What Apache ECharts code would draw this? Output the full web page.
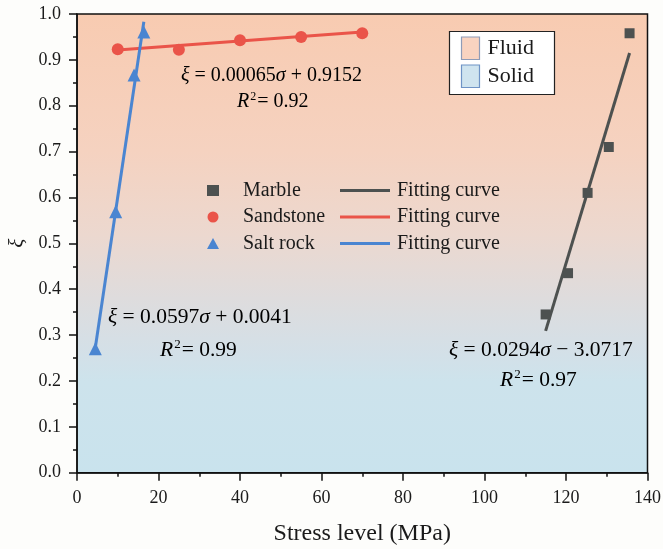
<!DOCTYPE html>
<html>
<head>
<meta charset="utf-8">
<script src="https://cdn.jsdelivr.net/npm/echarts@6/dist/echarts.min.js"></script>
<style>
  html, body { margin: 0; padding: 0; background: #fdfdfb; }
  #chart { width: 663px; height: 549px; }
</style>
</head>
<body>
<div id="chart"></div>
<script>
// Measured points: stress level (MPa) vs. ξ
const marbleStress    = [115, 120.5, 125.3, 130.5, 135.6];
const marbleXi        = [0.345, 0.435, 0.61, 0.71, 0.958];
const sandstoneStress = [10, 25, 40, 55, 70];
const sandstoneXi     = [0.923, 0.922, 0.943, 0.95, 0.958];
const saltStress      = [4.5, 9.5, 14, 16.4];
const saltXi          = [0.27, 0.569, 0.867, 0.961];

// Linear fits ξ = a·σ + b, drawn over each sample's stress range
const marbleFit    = { a: 0.0294,  b: -3.0717, r2: '0.97' };
const sandstoneFit = { a: 0.00065, b: 0.9152,  r2: '0.92' };
const saltFit      = { a: 0.0597,  b: 0.0041,  r2: '0.99' };

const xTicks = [0, 20, 40, 60, 80, 100, 120, 140];
const yTicks = [0, 0.1, 0.2, 0.3, 0.4, 0.5, 0.6, 0.7, 0.8, 0.9, 1.0];

const COLORS = { marble: '#4d5150', sandstone: '#ea5449', salt: '#4a85d1' };
const FONT = '"Liberation Serif", "Times New Roman", serif';

function pairs(xs, ys) { return xs.map((x, i) => [x, ys[i]]); }
function fitLine(fit, xs) {
  const lo = Math.min(...xs), hi = Math.max(...xs);
  return [[lo, fit.a * lo + fit.b], [hi, fit.a * hi + fit.b]];
}

const chart = echarts.init(document.getElementById('chart'), null, { renderer: 'canvas' });

function richFor(size) {
  return {
    i: { fontFamily: FONT, fontStyle: 'italic', fontSize: size, color: '#1a1a1a' },
    n: { fontFamily: FONT, fontSize: size, color: '#1a1a1a' },
    sup: { fontFamily: FONT, fontSize: Math.round(size * 0.6), color: '#1a1a1a',
           verticalAlign: 'top', padding: [0, 1, Math.round(size * 0.5), 1] }
  };
}
function eqText(fit) {
  const sign = fit.b < 0 ? '\u2212' : '+';
  return '{i|\u03BE}{n| = ' + fit.a + '}{i|\u03C3}{n| ' + sign + ' ' + Math.abs(fit.b).toFixed(4) + '}';
}
function r2Text(fit) { return '{i|R}{sup|2}{n|= ' + fit.r2 + '}'; }
function label(x, y, text, size) {
  return { type: 'text', x: x, y: y, z: 10,
    style: { text: text, rich: richFor(size), textVerticalAlign: 'middle', textAlign: 'left' } };
}

const option = {
  backgroundColor: '#fdfdfb',
  animation: false,
  grid: {
    left: 77, right: 15.5, top: 14, bottom: 76.3,
    outerBoundsMode: 'none',
    show: true,
    borderColor: '#111', borderWidth: 1.5,
    backgroundColor: {
      type: 'linear', x: 0, y: 0, x2: 0, y2: 1,
      colorStops: [
        { offset: 0.0,  color: '#f8cbb1' },
        { offset: 0.30, color: '#f5d2c0' },
        { offset: 0.48, color: '#ecd8cf' },
        { offset: 0.62, color: '#dedcdd' },
        { offset: 0.74, color: '#d3e0e8' },
        { offset: 0.80, color: '#cde3ec' },
        { offset: 1.0,  color: '#c9e3ed' }
      ]
    }
  },
  xAxis: {
    type: 'value', min: xTicks[0], max: xTicks[xTicks.length - 1], interval: xTicks[1] - xTicks[0],
    name: 'Stress level (MPa)', nameLocation: 'middle', nameGap: 49,
    nameTextStyle: { fontFamily: FONT, fontSize: 24, color: '#1a1a1a' },
    axisLine: { lineStyle: { color: '#111', width: 1.5 } },
    axisTick: { length: 8, lineStyle: { color: '#111', width: 1.5 } },
    minorTick: { show: true, splitNumber: 2, length: 4, lineStyle: { color: '#111', width: 1.5 } },
    splitLine: { show: false },
    axisLabel: { fontFamily: FONT, fontSize: 18, color: '#1a1a1a', margin: 17 }
  },
  yAxis: {
    type: 'value', min: yTicks[0], max: yTicks[yTicks.length - 1], interval: 0.1,
    name: '\u03BE', nameLocation: 'middle', nameGap: 45,
    nameTextStyle: { fontFamily: FONT, fontSize: 21, color: '#1a1a1a', fontStyle: 'italic' },
    axisLine: { lineStyle: { color: '#111', width: 1.5 } },
    axisTick: { length: 8, lineStyle: { color: '#111', width: 1.5 } },
    minorTick: { show: true, splitNumber: 2, length: 4, lineStyle: { color: '#111', width: 1.5 } },
    splitLine: { show: false },
    axisLabel: { fontFamily: FONT, fontSize: 18, color: '#1a1a1a', margin: 16,
      formatter: v => v.toFixed(1) }
  },
  legend: [
    {
      data: [
        { name: 'Marble', icon: 'rect' },
        { name: 'Sandstone', icon: 'circle' },
        { name: 'Salt rock', icon: 'triangle' }
      ],
      orient: 'vertical', left: 207, top: 180.5, padding: 0,
      itemWidth: 12, itemHeight: 11, itemGap: 6.5,
      textStyle: { fontFamily: FONT, fontSize: 20, color: '#1a1a1a', padding: [0, 0, 0, 19] }
    },
    {
      data: ['Marble fit', 'Sandstone fit', 'Salt rock fit'],
      formatter: () => 'Fitting curve',
      orient: 'vertical', left: 340, top: 180.5, padding: 0,
      itemWidth: 50, itemHeight: 3, itemGap: 6.5,
      icon: 'rect',
      textStyle: { fontFamily: FONT, fontSize: 20, color: '#1a1a1a', padding: [0, 0, 0, 2] }
    }
  ],
  series: [
    { name: 'Marble fit', type: 'line', data: fitLine(marbleFit, marbleStress),
      symbol: 'none', z: 2, color: COLORS.marble, lineStyle: { width: 3, color: COLORS.marble } },
    { name: 'Sandstone fit', type: 'line', data: fitLine(sandstoneFit, sandstoneStress),
      symbol: 'none', z: 2, color: COLORS.sandstone, lineStyle: { width: 3, color: COLORS.sandstone } },
    { name: 'Salt rock fit', type: 'line', data: fitLine(saltFit, saltStress),
      symbol: 'none', z: 2, color: COLORS.salt, lineStyle: { width: 3, color: COLORS.salt } },
    { name: 'Marble', type: 'scatter', data: pairs(marbleStress, marbleXi),
      symbol: 'rect', symbolSize: 10, z: 3, itemStyle: { color: COLORS.marble, opacity: 1 } },
    { name: 'Sandstone', type: 'scatter', data: pairs(sandstoneStress, sandstoneXi),
      symbol: 'circle', symbolSize: 12, z: 3, itemStyle: { color: COLORS.sandstone, opacity: 1 } },
    { name: 'Salt rock', type: 'scatter', data: pairs(saltStress, saltXi),
      symbol: 'triangle', symbolSize: 13, z: 3, itemStyle: { color: COLORS.salt, opacity: 1 } }
  ],
  graphic: [
    // phase key box
    { type: 'rect', z: 10, shape: { x: 449.5, y: 31.5, width: 105, height: 63 },
      style: { fill: '#ffffff', stroke: '#222', lineWidth: 1.2 } },
    { type: 'rect', z: 11, shape: { x: 461.5, y: 37, width: 18, height: 22.5 },
      style: { fill: '#f9d3c0', stroke: '#8f9cb8', lineWidth: 1.2 } },
    { type: 'rect', z: 11, shape: { x: 461.5, y: 65, width: 18, height: 22.5 },
      style: { fill: '#cfe4ef', stroke: '#6f94c6', lineWidth: 1.2 } },
    { type: 'text', z: 11, x: 487.5, y: 48,
      style: { text: 'Fluid', fontFamily: FONT, fontSize: 22, fill: '#1a1a1a', textVerticalAlign: 'middle' } },
    { type: 'text', z: 11, x: 487.5, y: 76,
      style: { text: 'Solid', fontFamily: FONT, fontSize: 22, fill: '#1a1a1a', textVerticalAlign: 'middle' } },
    // fit equations
    label(181, 76, eqText(sandstoneFit), 20),
    label(237, 102, r2Text(sandstoneFit), 20),
    label(108, 317, eqText(saltFit), 21.5),
    label(160, 350, r2Text(saltFit), 21.5),
    label(449, 350, eqText(marbleFit), 21.5),
    label(500, 380, r2Text(marbleFit), 21.5)
  ]
};

chart.setOption(option);
</script>
</body>
</html>
